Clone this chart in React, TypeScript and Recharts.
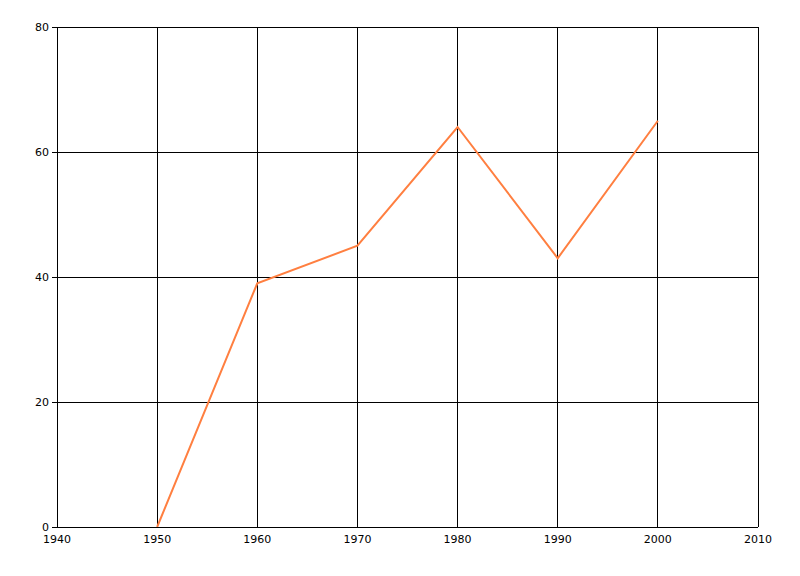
import { LineChart, Line, XAxis, YAxis, CartesianGrid } from 'recharts';

const years = [1950, 1960, 1970, 1980, 1990, 2000];
const values = [0, 39, 45, 64, 43, 65];
const xTicks = [1940, 1950, 1960, 1970, 1980, 1990, 2000, 2010];
const yTicks = [0, 20, 40, 60, 80];

const data = years.map((year, i) => ({ year, value: values[i] }));

const tickStyle = { fill: '#000', fontSize: 11, fontFamily: 'DejaVu Sans' };

export default function App() {
  return (
    <div style={{ position: 'fixed', left: 0, top: 0, width: 800, height: 576, background: '#fff' }}>
      <LineChart
        width={800}
        height={576}
        data={data}
        margin={{ top: 27, right: 42, left: 0, bottom: 29 }}
      >
        <CartesianGrid stroke="#000" strokeOpacity={1} shapeRendering="crispEdges" />
        <XAxis
          dataKey="year"
          type="number"
          domain={[1940, 2010]}
          ticks={xTicks}
          height={20}
          tickLine={false}
          tickSize={0}
          tickMargin={8}
          axisLine={{ stroke: '#000', shapeRendering: 'crispEdges' }}
          tick={tickStyle}
        />
        <YAxis
          type="number"
          domain={[0, 80]}
          ticks={yTicks}
          width={57}
          tickSize={5}
          tickMargin={3}
          axisLine={{ stroke: '#000', shapeRendering: 'crispEdges' }}
          tickLine={{ stroke: '#000', shapeRendering: 'crispEdges' }}
          tick={tickStyle}
        />
        <Line
          type="linear"
          dataKey="value"
          stroke="#FF7F40"
          strokeWidth={2}
          dot={false}
          isAnimationActive={false}
        />
      </LineChart>
    </div>
  );
}
